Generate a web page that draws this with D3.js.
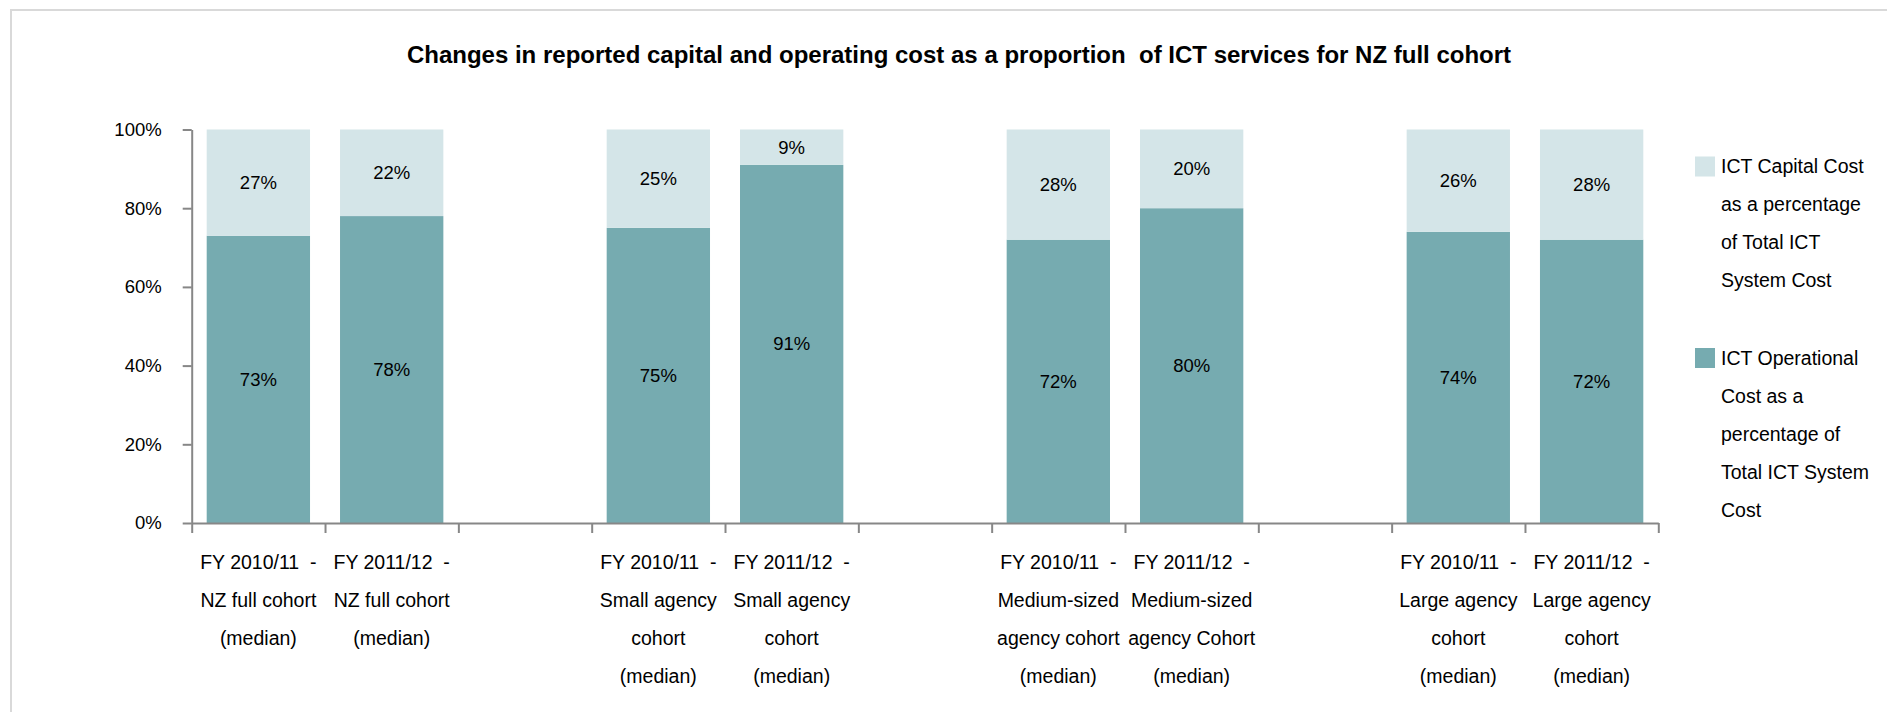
<!DOCTYPE html>
<html>
<head>
<meta charset="utf-8">
<script src="https://cdn.jsdelivr.net/npm/d3@7"></script>
<style>
  html, body { margin: 0; padding: 0; background: #fff; }
  svg { display: block; }
  text { font-family: "Liberation Sans", Arial, sans-serif; fill: #000; white-space: pre; }
</style>
</head>
<body>
<svg id="chart" width="1887" height="712"></svg>
<script>
// Slots along the x axis; empty slots leave the gaps between cohorts.
const slots = ["nz1011", "nz1112", "gap1", "sm1011", "sm1112", "gap2",
               "md1011", "md1112", "gap3", "lg1011", "lg1112"];
const categories = ["nz1011", "nz1112", "sm1011", "sm1112",
                    "md1011", "md1112", "lg1011", "lg1112"];
const categoryLabels = [
  ["FY 2010/11  -", "NZ full cohort", "(median)"],
  ["FY 2011/12  -", "NZ full cohort", "(median)"],
  ["FY 2010/11  -", "Small agency", "cohort", "(median)"],
  ["FY 2011/12  -", "Small agency", "cohort", "(median)"],
  ["FY 2010/11  -", "Medium-sized", "agency cohort", "(median)"],
  ["FY 2011/12  -", "Medium-sized", "agency Cohort", "(median)"],
  ["FY 2010/11  -", "Large agency", "cohort", "(median)"],
  ["FY 2011/12  -", "Large agency", "cohort", "(median)"]
];
// Percent of total ICT system cost
const operational = [73, 78, 75, 91, 72, 80, 74, 72];
const capital     = [27, 22, 25, 9, 28, 20, 26, 28];
const yTicks = [0, 20, 40, 60, 80, 100];
const seriesNames = [
  ["ICT Capital Cost", "as a percentage", "of Total ICT", "System Cost"],
  ["ICT Operational", "Cost as a", "percentage of", "Total ICT System", "Cost"]
];
const titleText = "Changes in reported capital and operating cost as a proportion  of ICT services for NZ full cohort";

const colOp = "#76abb0";
const colCap = "#d4e5e8";
const axisCol = "#878787";

const svg = d3.select("#chart");

// outer frame
svg.append("rect")
  .attr("x", 11).attr("y", 10)
  .attr("width", 1900).attr("height", 720)
  .attr("fill", "none").attr("stroke", "#d9d9d9").attr("stroke-width", 2);

svg.append("text")
  .attr("x", 959).attr("y", 63)
  .attr("text-anchor", "middle")
  .attr("font-size", 24).attr("font-weight", "bold")
  .text(titleText);

const plotLeft = 191.7, plotRight = 1658.3, plotTop = 129.5, plotBottom = 523;

const x = d3.scaleBand().domain(slots).range([plotLeft, plotRight])
  .paddingInner(0.225).paddingOuter(0.1125);
const xEdge = d3.scaleLinear().domain([0, slots.length]).range([plotLeft, plotRight]);
const y = d3.scaleLinear().domain([0, 100]).range([plotBottom, plotTop]);

const rows = categories.map((c, i) => ({ key: c, op: operational[i], cap: capital[i], label: categoryLabels[i] }));

const bars = svg.append("g");
bars.selectAll("rect.op").data(rows).join("rect")
  .attr("class", "op")
  .attr("x", d => x(d.key)).attr("width", x.bandwidth())
  .attr("y", d => y(d.op)).attr("height", d => y(0) - y(d.op))
  .attr("fill", colOp);
bars.selectAll("rect.cap").data(rows).join("rect")
  .attr("class", "cap")
  .attr("x", d => x(d.key)).attr("width", x.bandwidth())
  .attr("y", d => y(d.op + d.cap)).attr("height", d => y(d.op) - y(d.op + d.cap))
  .attr("fill", colCap);

// value labels centred in each segment
bars.selectAll("text.opv").data(rows).join("text")
  .attr("class", "opv")
  .attr("x", d => x(d.key) + x.bandwidth() / 2)
  .attr("y", d => (y(0) + y(d.op)) / 2)
  .attr("dy", "0.35em").attr("text-anchor", "middle").attr("font-size", 18.5)
  .text(d => d.op + "%");
bars.selectAll("text.capv").data(rows).join("text")
  .attr("class", "capv")
  .attr("x", d => x(d.key) + x.bandwidth() / 2)
  .attr("y", d => (y(d.op) + y(d.op + d.cap)) / 2)
  .attr("dy", "0.35em").attr("text-anchor", "middle").attr("font-size", 18.5)
  .text(d => d.cap + "%");

// y axis
const yAxis = svg.append("g").attr("transform", `translate(${plotLeft},0)`)
  .call(d3.axisLeft(y).tickValues(yTicks).tickFormat(d => d + "%")
    .tickSize(9).tickSizeOuter(0).tickPadding(21));
yAxis.attr("font-family", null).attr("font-size", null);
yAxis.selectAll("path, line").attr("stroke", axisCol).attr("stroke-width", 2);
yAxis.selectAll("text").attr("font-size", 18.5).attr("fill", "#000");

// x axis with ticks between slots
const xAxis = svg.append("g").attr("transform", `translate(0,${plotBottom})`)
  .call(d3.axisBottom(xEdge).tickValues(d3.range(slots.length + 1)).tickFormat("")
    .tickSize(10).tickSizeOuter(0));
xAxis.selectAll("path, line").attr("stroke", axisCol).attr("stroke-width", 2);

// category labels
const lab = svg.append("g").selectAll("text").data(rows).join("text")
  .attr("text-anchor", "middle").attr("font-size", 19.5)
  .attr("x", d => x(d.key) + x.bandwidth() / 2)
  .attr("y", 562.5);
lab.selectAll("tspan").data(d => d.label.map(t => ({ t, cx: x(d.key) + x.bandwidth() / 2 }))).join("tspan")
  .attr("x", d => d.cx)
  .attr("dy", (d, i) => i === 0 ? "0.35em" : "38")
  .text(d => d.t);

// legend
const legendTop = [166.5, 358];
const legendCol = [colCap, colOp];
seriesNames.forEach((lines, k) => {
  const g = svg.append("g");
  g.append("rect").attr("x", 1695).attr("y", legendTop[k] - 10)
    .attr("width", 20).attr("height", 20).attr("fill", legendCol[k]);
  const t = g.append("text").attr("font-size", 19.5).attr("x", 1721).attr("y", legendTop[k]);
  t.selectAll("tspan").data(lines).join("tspan")
    .attr("x", 1721)
    .attr("dy", (d, i) => i === 0 ? "0.35em" : "38")
    .text(d => d);
});
</script>
</body>
</html>
